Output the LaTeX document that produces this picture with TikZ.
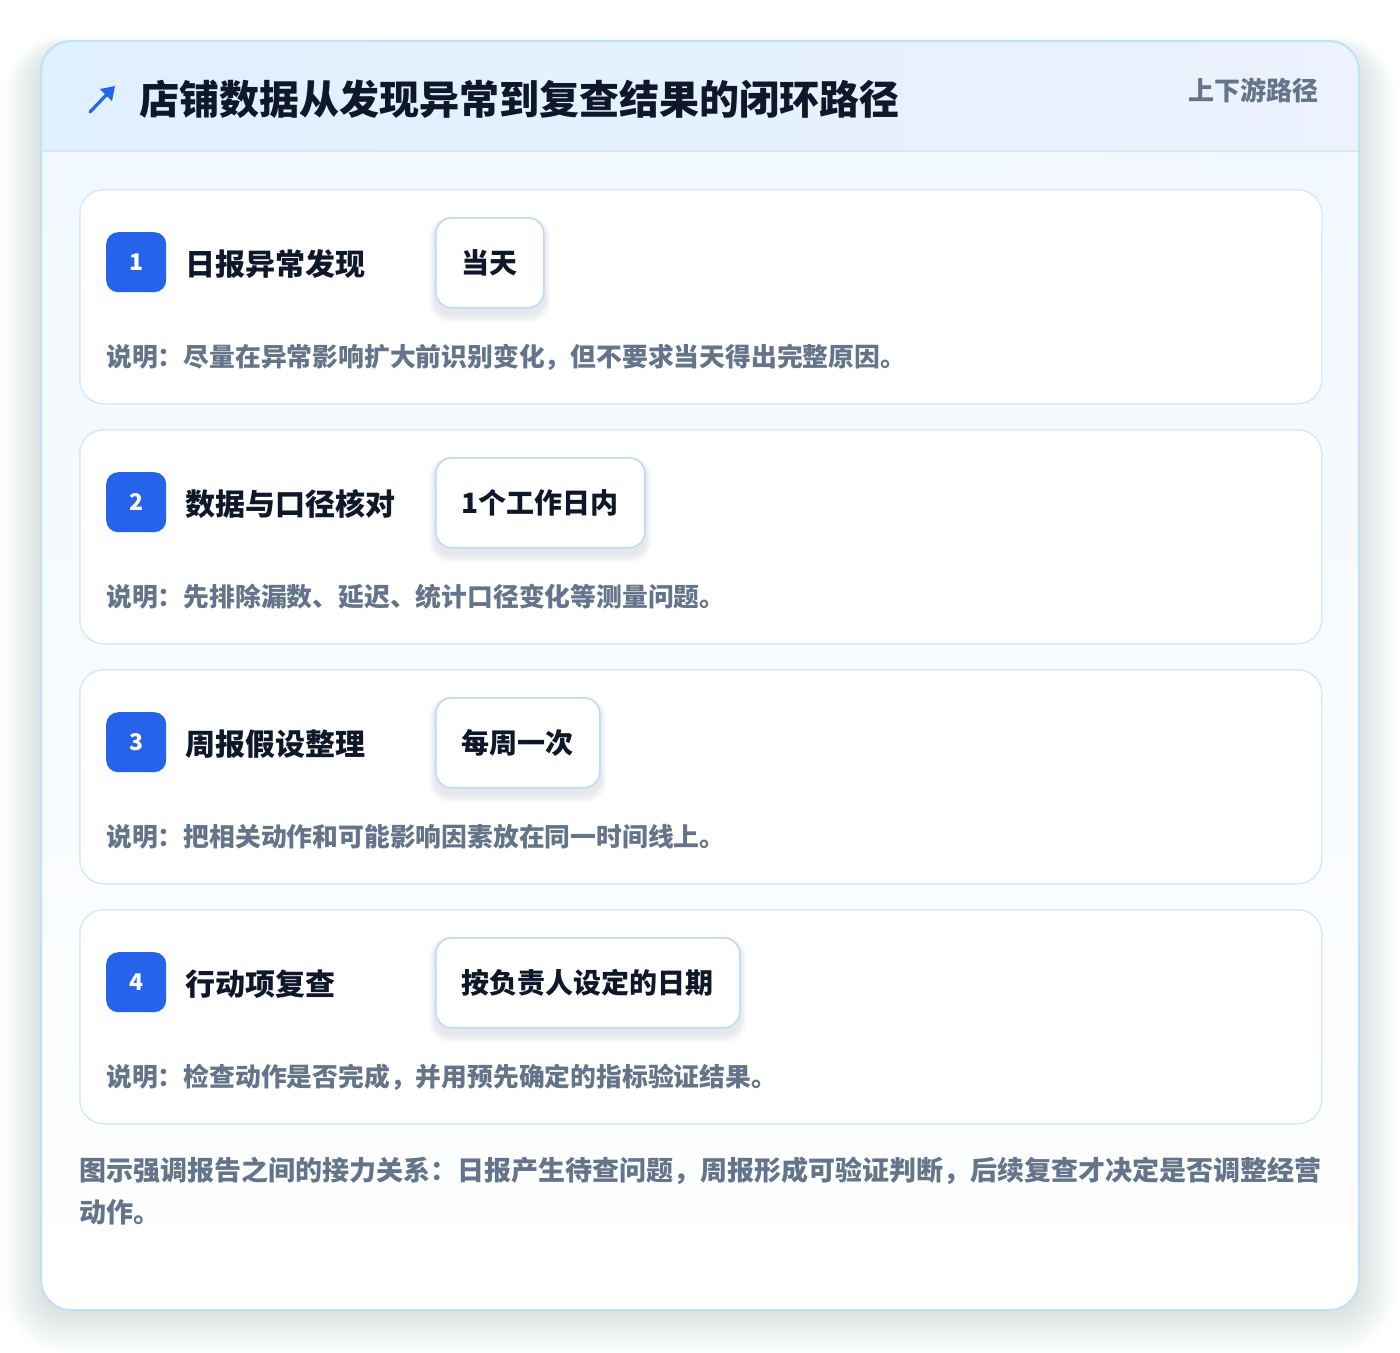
\documentclass[tikz,border=0pt]{standalone}
\usepackage{fontspec}
\setmainfont{Noto Sans CJK SC}
\definecolor{outerborder}{HTML}{BEE3F8}
\definecolor{headL}{HTML}{DFF0FE}
\definecolor{headR}{HTML}{ECF2FE}
\definecolor{sepline}{HTML}{D5E7F8}
\definecolor{bodytop}{HTML}{F1F8FF}
\definecolor{stepborder}{HTML}{D8E9FA}
\definecolor{tagborder}{HTML}{BFD8F3}
\definecolor{accent}{HTML}{2563EB}
\definecolor{darktext}{HTML}{0F172A}
\definecolor{slatetext}{HTML}{64748B}
\definecolor{shadowcol}{HTML}{475569}
\tikzset{
  stepcard/.style={draw=stepborder, line width=1.5pt, fill=white, rounded corners=24pt,
    minimum width=1242pt, minimum height=214pt, anchor=north west, inner sep=0pt},
  badge/.style={fill=accent, rounded corners=12pt, minimum width=60pt, minimum height=60pt,
    text=white, font=\bfseries\fontsize{23pt}{23pt}\selectfont, inner sep=0pt, anchor=north west},
  steptitle/.style={anchor=west, text=darktext, font=\bfseries\fontsize{30pt}{30pt}\selectfont, inner sep=0pt},
  tagbox/.style={draw=tagborder, line width=1.5pt, fill=white, rounded corners=16pt,
    minimum height=90pt, inner xsep=26pt, anchor=north west, text=darktext,
    font=\bfseries\fontsize{28pt}{28pt}\selectfont},
  desc/.style={anchor=west, text=slatetext, font=\bfseries\fontsize{25.8pt}{25.8pt}\selectfont, inner sep=0pt},
}
\newcommand{\tagshadow}[1]{%
  \foreach \k in {1,...,6}{
    \fill[shadowcol, opacity=0.018, rounded corners=16pt+\k pt]
      ([xshift=-\k pt, yshift=-5pt+\k pt]#1.north west) rectangle ([xshift=\k pt, yshift=-5pt-1.6*\k pt]#1.south east);
  }}
\begin{document}
\begin{tikzpicture}[x=1pt,y=-1pt]
\useasboundingbox (0,0) rectangle (1400,1352);
\fill[white] (0,0) rectangle (1400,1352);
% outer shadow
\foreach \k in {1,...,14}{
  \fill[shadowcol, opacity=0.011, rounded corners=30pt+2*\k pt]
    (41-2.6*\k, 41-1.2*\k+12) rectangle (1359+2.6*\k, 1310+2.6*\k+4);
}
\path[fill=white, rounded corners=30pt] (41,41) rectangle (1359,1310);
\begin{scope}
\clip[rounded corners=30pt] (41,41) rectangle (1359,1310);
\shade[top color=bodytop, bottom color=white] (41,151) rectangle (1359,1310);
\shade[left color=headL, right color=headR] (41,41) rectangle (1359,151);
\draw[sepline, line width=1.5pt] (41,151) -- (1359,151);
\end{scope}
\draw[outerborder, line width=2pt, rounded corners=30pt] (41,41) rectangle (1359,1310);
% header
\coordinate (arrS) at (90,112);
\coordinate (arrE) at (112,89);
\draw[accent, line width=3.2pt, line cap=round] (arrS) -- (arrE);
\fill[accent] (115,86) -- (100,89) -- (112,101) -- cycle;
\node[anchor=west, inner sep=0pt, text=darktext, font=\bfseries\fontsize{40pt}{40pt}\selectfont] (title) at (139,99) {店铺数据从发现异常到复查结果的闭环路径};
\node[anchor=east, inner sep=0pt, text=slatetext, font=\bfseries\fontsize{26pt}{26pt}\selectfont] (subtitle) at (1319,90) {上下游路径};
% steps
\node[stepcard] (s1) at (79,189) {};
\node[badge] (b1) at (106,232) {1};
\node[steptitle] (t1) at (185,264) {日报异常发现};
\path[draw=none] node[tagbox, opacity=0] (g1s) at (435,217) {当天};
\tagshadow{g1s}
\node[tagbox] (g1) at (435,217) {当天};
\node[desc] (d1) at (106,357) {说明：尽量在异常影响扩大前识别变化，但不要求当天得出完整原因。};

\node[stepcard] (s2) at (79,429) {};
\node[badge] (b2) at (106,472) {2};
\node[steptitle] (t2) at (185,504) {数据与口径核对};
\path node[tagbox, opacity=0] (g2s) at (435,457) {1个工作日内};
\tagshadow{g2s}
\node[tagbox] (g2) at (435,457) {1个工作日内};
\node[desc] (d2) at (106,597) {说明：先排除漏数、延迟、统计口径变化等测量问题。};

\node[stepcard] (s3) at (79,669) {};
\node[badge] (b3) at (106,712) {3};
\node[steptitle] (t3) at (185,744) {周报假设整理};
\path node[tagbox, opacity=0] (g3s) at (435,697) {每周一次};
\tagshadow{g3s}
\node[tagbox] (g3) at (435,697) {每周一次};
\node[desc] (d3) at (106,837) {说明：把相关动作和可能影响因素放在同一时间线上。};

\node[stepcard] (s4) at (79,909) {};
\node[badge] (b4) at (106,952) {4};
\node[steptitle] (t4) at (185,984) {行动项复查};
\path node[tagbox, opacity=0] (g4s) at (435,937) {按负责人设定的日期};
\tagshadow{g4s}
\node[tagbox] (g4) at (435,937) {按负责人设定的日期};
\node[desc] (d4) at (106,1077) {说明：检查动作是否完成，并用预先确定的指标验证结果。};
% footer
\node[anchor=north west, inner sep=0pt, text=slatetext, align=left, text width=1250pt,
  font=\bfseries\fontsize{27pt}{42pt}\selectfont] (foot) at (79,1157)
  {图示强调报告之间的接力关系：日报产生待查问题，周报形成可验证判断，后续复查才决定是否调整经营\\动作。};
\end{tikzpicture}
\end{document}
